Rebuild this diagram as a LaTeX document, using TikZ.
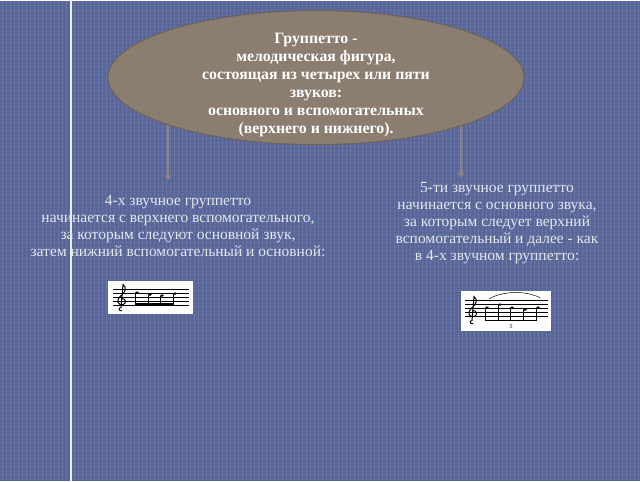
\documentclass[tikz,border=0pt]{standalone}
\usepackage{fontspec}
\setmainfont{Liberation Serif}
\usetikzlibrary{shapes.geometric,arrows.meta}
\definecolor{slate}{HTML}{58669A}
\definecolor{taupe}{HTML}{8B7D70}
\definecolor{taupedark}{HTML}{6E6258}
\definecolor{connclr}{HTML}{8E847C}
\definecolor{pale}{HTML}{E4E6EE}
\tikzset{
  bubble/.style={ellipse,draw=taupedark,fill=taupe,line width=1pt,
    minimum width=416pt,minimum height=134pt},
  bubbletext/.style={align=center,text=white,font=\fontsize{15.8}{18}\selectfont\bfseries},
  plaintext/.style={align=center,text=pale,font=\fontsize{15.5}{17}\selectfont},
  conn/.style={draw=connclr,line width=1.6pt,-{Stealth[length=6pt,width=7pt,inset=2pt]}},
  staff/.style={line width=0.5pt,black},
  notehead/.style={fill=black}
}
\begin{document}
\begin{tikzpicture}[x=1pt,y=-1pt]
  % background
  \fill[slate] (0,0) rectangle (640,480);
  \foreach \x in {2,6,...,638} {
    \draw[white,opacity=0.13,line width=0.8pt,dash pattern=on 3pt off 1pt] (\x,0) -- (\x,480);
  }
  \draw[white!90!slate,line width=1.2pt] (71,0) -- (71,480);
  \useasboundingbox (0,0) rectangle (640,480);

  % connectors (start under the ellipse)
  \coordinate (fourtop) at (168,100);
  \coordinate (fourend) at (168,180);
  \coordinate (fivetop) at (461,100);
  \coordinate (fiveend) at (461,177);
  \path[conn] (fourtop) -- (fourend);
  \path[conn] (fivetop) -- (fiveend);

  % definition
  \node[bubble] (def) at (316,77) {};
  \node[bubbletext] (deftext) at (316,84) {Группетто -\\мелодическая фигура,\\состоящая из четырех или пяти\\звуков:\\основного и вспомогательных\\(верхнего и нижнего).};

  % the two kinds
  \node[plaintext] (four) at (178,225) {4-х звучное группетто\\начинается с верхнего вспомогательного,\\за которым следуют основной звук,\\затем нижний вспомогательный и основной:};
  \node[plaintext] (five) at (497,222) {5-ти звучное группетто\\начинается с основного звука,\\за которым следует верхний\\вспомогательный и далее - как\\в 4-х звучном группетто:};

  % 4-note example
  \fill[white] (108,280) rectangle (193,313);
  \foreach \y in {289,293,297,301,305} {
    \draw[staff] (113,\y) -- (189,\y);
  }
  \draw[line width=1pt] (122,310) .. controls (119,311) and (118,307) .. (121,307)
    -- (123,284) .. controls (127,287) and (126,291) .. (120,296)
    .. controls (116,300) and (118,305) .. (123,304)
    .. controls (127,303) and (126,297) .. (121,298);
  \foreach \x/\y in {137/292,150/294,162/295,175/293} {
    \fill[notehead] (\x,\y) ellipse (1.8pt and 1.3pt);
    \draw[line width=0.5pt] (\x-1.6,\y) -- (\x-1.6,304);
  }
  \fill (135.4,302.5) rectangle (173.4,305);

  % 5-note example
  \fill[white] (461,290) rectangle (551,330);
  \foreach \y in {300,304,308,312,316} {
    \draw[staff] (465,\y) -- (548,\y);
  }
  \draw[line width=1pt] (473,323) .. controls (470,324) and (469,320) .. (472,320)
    -- (474,296) .. controls (478,299) and (477,303) .. (471,308)
    .. controls (467,312) and (469,317) .. (474,316)
    .. controls (478,315) and (477,309) .. (472,310);
  \foreach \x/\y in {487/307,500/304,512/307,525/309,538/307} {
    \fill[notehead] (\x,\y) ellipse (1.8pt and 1.3pt);
    \draw[line width=0.5pt] (\x-1.6,\y) -- (\x-1.6,320);
  }
  \fill (485.4,319) rectangle (536.4,320.5);
  \draw[line width=0.5pt] (489,298) .. controls (505,290) and (525,290) .. (540,297);
  \node[font=\fontsize{6}{6}\selectfont\itshape,inner sep=0pt] (quint) at (511,326) {5};
\end{tikzpicture}
\end{document}
